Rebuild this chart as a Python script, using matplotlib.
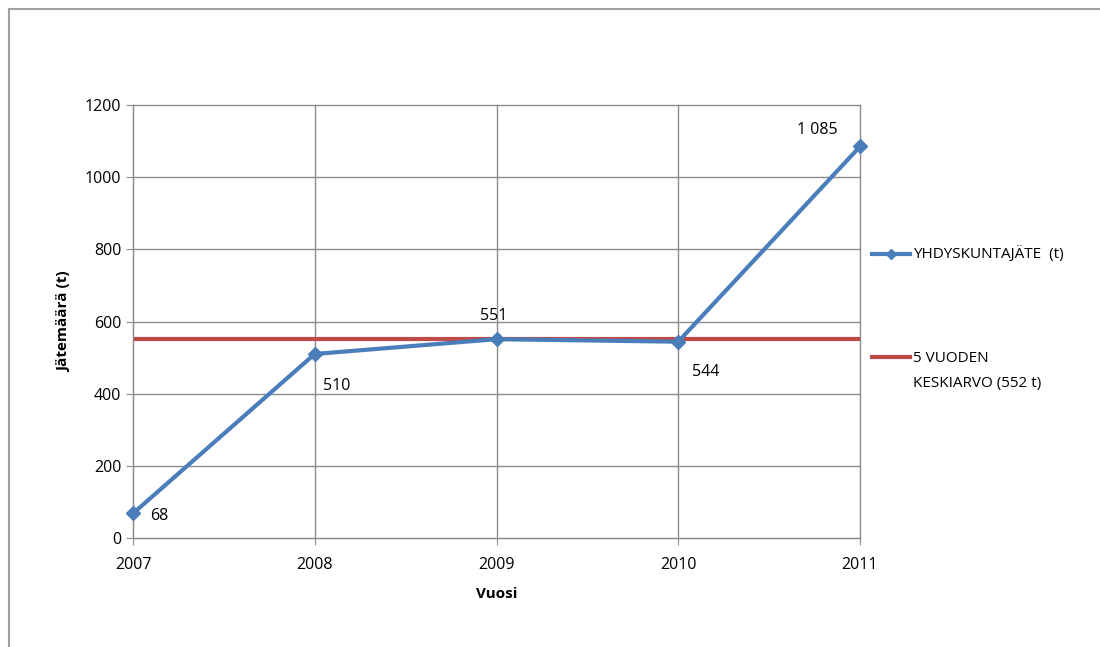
import matplotlib.pyplot as plt
from matplotlib.lines import Line2D

plt.rcParams['font.family'] = ['Open Sans', 'DejaVu Sans']

years = [2007, 2008, 2009, 2010, 2011]
waste = [68, 510, 551, 544, 1085]
labels = ['68', '510', '551', '544', '1 085']
avg = 552
label_pos = [(12, -2, 'left', 'center'), (6, -23, 'left', 'center'),
             (-2, 17, 'center', 'center'), (10, -22, 'left', 'center'),
             (-31, 12, 'center', 'center')]

fig = plt.figure(figsize=(11, 6.47), dpi=100)
ax = fig.add_axes([133 / 1100, 1 - 538 / 647, 727 / 1100, 433 / 647])

ax.plot(years, waste, color='#4a7ebb', lw=3, marker='D', ms=7, zorder=3, clip_on=False)
ax.axhline(avg, color='#be4b48', lw=3, zorder=2)

for x, y, t, (dx, dy, ha, va) in zip(years, waste, labels, label_pos):
    ax.annotate(t, (x, y), xytext=(dx, dy), textcoords='offset points', ha=ha, va=va, fontsize=11.5)

ax.set_xlim(2007, 2011)
ax.set_ylim(0, 1200)
ax.set_xticks(years)
ax.set_yticks(range(0, 1201, 200))
ax.grid(True, color='#8c8c8c', lw=1, clip_on=False)
for s in ax.spines.values():
    s.set_visible(False)
ax.spines['left'].set_visible(True)
ax.spines['bottom'].set_visible(True)
ax.spines['left'].set_color('#8c8c8c')
ax.spines['bottom'].set_color('#8c8c8c')
ax.tick_params(colors='#8c8c8c', labelcolor='black', labelsize=11.5, length=5, direction='out')
ax.tick_params(axis='x', pad=9)
ax.set_xlabel('Vuosi', fontsize=11, fontweight='bold', labelpad=10)
ax.set_ylabel('Jätemäärä (t)', fontsize=11, fontweight='bold', labelpad=10)

# legend drawn by hand (handle level with the first text line)
W, H = 1100, 647
fig.add_artist(Line2D([872 / W, 891 / W, 910 / W], [1 - 254 / H] * 3, color='#4a7ebb', lw=3,
                      marker='D', ms=5.5, markevery=[1]))
fig.text(913 / W, 1 - 254 / H, 'YHDYSKUNTAJÄTE  (t)', fontsize=11, va='center')
fig.add_artist(Line2D([872 / W, 910 / W], [1 - 357 / H] * 2, color='#be4b48', lw=3))
fig.text(913 / W, 1 - 359 / H, '5 VUODEN', fontsize=11, va='center')
fig.text(913 / W, 1 - 383 / H, 'KESKIARVO (552 t)', fontsize=11, va='center')

fig.add_artist(Line2D([9 / W, 9 / W], [0, 1 - 9 / H], color='#a0a0a0', lw=1.5))
fig.add_artist(Line2D([9 / W, 1], [1 - 9 / H, 1 - 9 / H], color='#a0a0a0', lw=1.5))

fig.savefig('out.png', dpi=100)
